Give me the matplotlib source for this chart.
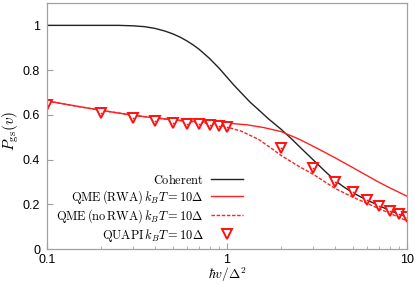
import matplotlib
matplotlib.use("Agg")
import matplotlib.pyplot as plt
import numpy as np

# Data
coh_x = [0.1, 0.2, 0.25, 0.3, 0.35, 0.4, 0.45, 0.5, 0.55, 0.6, 0.65, 0.7, 0.8, 0.9, 1.0, 1.1, 1.2,
         1.35, 1.5, 1.7, 2.0, 2.3, 2.6, 3.0, 3.5, 4.0, 4.5, 5.0, 5.5, 6.0, 7.0, 8.0, 9.0, 10.0]
coh_y = [1.0, 1.0, 1.0, 0.998, 0.994, 0.986, 0.975, 0.962, 0.947, 0.93, 0.912, 0.893, 0.852, 0.81,
         0.768, 0.73, 0.698, 0.655, 0.622, 0.582, 0.535, 0.49, 0.448, 0.40, 0.348, 0.305, 0.275,
         0.252, 0.234, 0.219, 0.194, 0.172, 0.157, 0.145]

rwa_x = [0.1, 0.15, 0.2, 0.3, 0.4, 0.5, 0.7, 1.0, 1.3, 1.6, 2.0, 2.5, 3.0, 3.5, 4.0, 5.0, 6.0,
         7.0, 8.0, 9.0, 10.0]
rwa_y = [0.662, 0.637, 0.62, 0.598, 0.586, 0.578, 0.569, 0.563, 0.555, 0.543, 0.525, 0.492, 0.46,
         0.432, 0.407, 0.364, 0.328, 0.298, 0.274, 0.254, 0.236]

norwa_x = [0.1, 0.15, 0.2, 0.3, 0.4, 0.5, 0.7, 0.85, 1.0, 1.2, 1.5, 1.8, 2.0, 2.5, 3.0, 3.5, 4.0,
           5.0, 6.0, 7.0, 8.0, 9.0, 10.0]
norwa_y = [0.662, 0.637, 0.62, 0.598, 0.586, 0.577, 0.566, 0.558, 0.545, 0.527, 0.49, 0.445, 0.418,
           0.37, 0.335, 0.30, 0.27, 0.232, 0.204, 0.18, 0.16, 0.142, 0.126]

quapi_x = [0.1, 0.2, 0.3, 0.4, 0.5, 0.6, 0.7, 0.8, 0.9, 1.0, 2, 3, 4, 5, 6, 7, 8, 9, 10]
quapi_y = [0.643, 0.607, 0.585, 0.571, 0.564, 0.561, 0.558, 0.554, 0.549, 0.546, 0.452, 0.361,
           0.30, 0.255, 0.219, 0.192, 0.171, 0.156, 0.141]

yticks = [0, 0.2, 0.4, 0.6, 0.8, 1]
ytick_labels = ["0", "0.2", "0.4", "0.6", "0.8", "1"]
xticks = [0.1, 1, 10]
xtick_labels = ["0.1", "1", "10"]

labels = [r"$\mathrm{Coherent}$",
          r"$\mathrm{QME\,(RWA)}\,k_BT=10\Delta$",
          r"$\mathrm{QME\,(no\,RWA)}\,k_BT=10\Delta$",
          r"$\mathrm{QUAPI}\,k_BT=10\Delta$"]

plt.rcParams['mathtext.fontset'] = 'cm'
plt.rcParams['font.family'] = ['Liberation Sans', 'DejaVu Sans']

fig = plt.figure(figsize=(4.15, 2.85), dpi=100)
ax = fig.add_axes([47/415, 1 - 249/285, 360/415, 246/285])

frame = '#a0a0a0'
ax.plot(coh_x, coh_y, color='#222222', lw=1.0, label=labels[0])
ax.plot(rwa_x, rwa_y, color='#ff2020', lw=1.0, label=labels[1])
ax.plot(norwa_x, norwa_y, color='#ff2020', lw=1.0, ls=(0, (2.5, 1.2)), label=labels[2])
ax.plot(quapi_x, quapi_y, ls='none', marker='v', ms=6.5, mfc='white', mec='#ff1010', mew=1.4,
        label=labels[3])
ax.plot(quapi_x, quapi_y, ls='none', marker='o', ms=1.2, mfc='#ff1010', mec='#ff1010', mew=0)

ax.set_xscale('log')
ax.set_xlim(0.1, 10)
ax.set_ylim(0, 1.1)
ax.set_yticks(yticks)
ax.set_yticklabels(ytick_labels)
ax.set_xticks(xticks)
ax.set_xticklabels(xtick_labels)
ax.xaxis.set_minor_locator(matplotlib.ticker.LogLocator(base=10, subs=np.arange(2, 10)))
ax.xaxis.set_minor_formatter(matplotlib.ticker.NullFormatter())
ax.tick_params(axis='both', which='major', direction='in', length=4, color=frame,
               labelsize=9, pad=5, top=False, right=False)
ax.tick_params(axis='x', which='major', pad=3.5)
ax.tick_params(axis='x', which='minor', direction='in', length=2.5, color=frame, top=False)
for s in ax.spines.values():
    s.set_color(frame)
    s.set_linewidth(0.9)

ax.set_xlabel(r"$\hbar v/\Delta^2$", fontsize=9.8)
ax.xaxis.set_label_coords(0.5, -0.066)
ax.set_ylabel(r"$P_{\rm gs}(v)$", fontsize=11)
ax.yaxis.set_label_coords(-0.072, 0.48)

leg = ax.legend(loc='lower right', bbox_to_anchor=((243 - 47) / 360, 0.022), frameon=False,
                markerfirst=False, fontsize=8.9, handlelength=2.6, handletextpad=0.6,
                labelspacing=0.12, borderpad=0, borderaxespad=0)
for t in leg.get_texts():
    t.set_ha('right')

fig.savefig('out.png', dpi=100)
